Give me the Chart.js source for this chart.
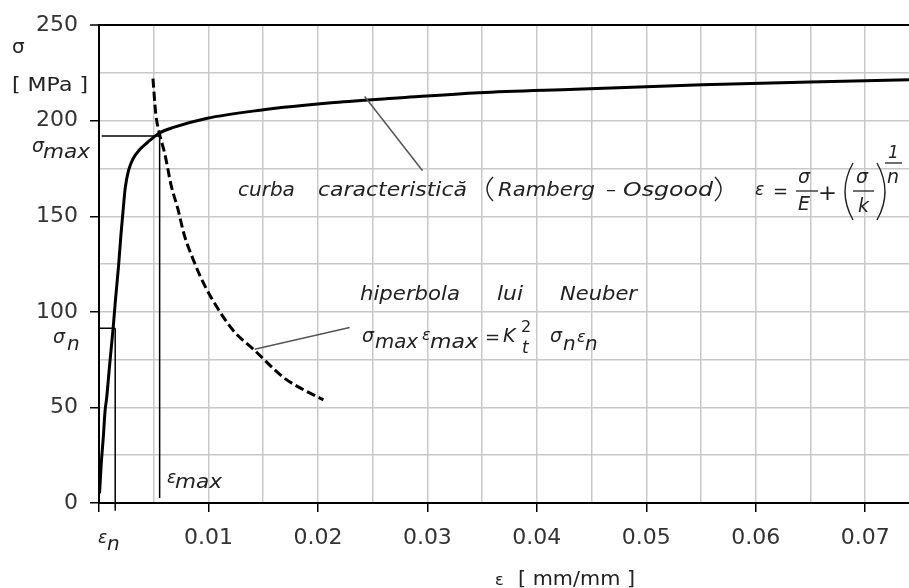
<!DOCTYPE html>
<html>
<head>
<meta charset="utf-8">
<title>Ramberg-Osgood si hiperbola lui Neuber</title>
<script src="https://cdn.jsdelivr.net/npm/chart.js"></script>
<style>
  body { margin: 0; background: #fff; }
  #wrap { width: 909px; height: 588px; position: relative; }
</style>
</head>
<body>
<div id="wrap"><canvas id="chart"></canvas></div>
<script>
// characteristic curve (Ramberg - Osgood), strain [mm/mm] and stress [MPa]
const curveStrain = [0.00005, 0.0002, 0.0004, 0.00055, 0.0007, 0.001, 0.0013, 0.0015, 0.0018, 0.002, 0.0022, 0.0024,
                     0.0027, 0.0031, 0.0037, 0.0044, 0.0055, 0.0068, 0.0098, 0.0147, 0.0215, 0.0276, 0.0347, 0.0435, 0.0551, 0.065, 0.074];
const curveStress = [5, 20, 35, 48, 55, 74, 92, 106, 125, 140, 153, 165,
                     174, 180, 184.8, 188.5, 193.5, 196.5, 201.2, 205.5, 209.5, 212, 214.7, 216.5, 218.8, 220.3, 221.4];

// Neuber hyperbola (dashed)
const neuberStrain = [0.00493, 0.00518, 0.00551, 0.006, 0.0066, 0.0072, 0.0078, 0.0086, 0.0093, 0.0103, 0.0123, 0.0141, 0.0169, 0.0186, 0.0205];
const neuberStress = [222, 204, 193.5, 183, 166, 154, 140, 127.5, 118, 107, 90, 80.5, 65.5, 59.5, 54];

// reference values
const sigmaMax = 192, epsMax = 0.00554;
const sigmaN = 91.4, epsN = 0.00148;

// leader lines for the labels [strain, stress]
const rambergLeader = [[0.02427, 212.7], [0.02956, 173.8]];
const neuberLeader = [[0.01422, 80.4], [0.0229, 91.8]];

const pts = (xs, ys) => xs.map((x, i) => ({ x: x, y: ys[i] }));
const pairs = arr => arr.map(p => ({ x: p[0], y: p[1] }));
const isMajorX = v => Math.abs(v * 100 - Math.round(v * 100)) < 1e-6;

const thin = { borderColor: '#000', borderWidth: 1.5, pointRadius: 0, showLine: true };

const annotate = {
  id: 'annotate',
  afterDraw(chart) {
    const c = chart.ctx;
    c.save();
    c.fillStyle = '#222';
    c.strokeStyle = '#222';
    c.textAlign = 'left';
    c.textBaseline = 'alphabetic';
    const IT = s => 'italic ' + s + 'px "DejaVu Sans"';
    const UP = s => s + 'px "DejaVu Sans"';
    // draw text, squeezed or stretched horizontally to width w when given
    function put(str, x, y, font, w) {
      c.font = font;
      let sx = 1;
      if (w) sx = w / c.measureText(str).width;
      c.save();
      c.translate(x, y);
      c.scale(sx, 1);
      c.fillText(str, 0, 0);
      c.restore();
    }
    function bar(x1, x2, y) {
      c.lineWidth = 1.3;
      c.beginPath(); c.moveTo(x1, y); c.lineTo(x2, y); c.stroke();
    }
    function paren(x, top, bottom, bulge) {
      c.lineWidth = 1.4;
      c.beginPath();
      c.moveTo(x, top);
      c.quadraticCurveTo(x + bulge, (top + bottom) / 2, x, bottom);
      c.stroke();
    }

    // axis titles and reference labels
    put('σ', 12, 53, UP(20));
    put('[ MPa ]', 12, 91, UP(20), 76);
    put('σ', 32, 152, IT(19)); put('max', 43, 158, IT(20), 47);
    put('σ', 53, 343, IT(19)); put('n', 67, 350, IT(20));
    put('ε', 98, 543, IT(17)); put('n', 107, 550, IT(20));
    put('ε', 167, 483, IT(17)); put('max', 175, 488, IT(20), 47);
    put('ε', 495, 585, UP(16)); put('[ mm/mm ]', 518, 585, UP(20), 117);

    // curba caracteristica
    put('curba', 238, 196, IT(20));
    put('caracteristică', 318, 196, IT(20), 149);
    paren(493, 177, 201, -12);
    put('Ramberg', 498, 196, IT(20), 97);
    put('–', 606, 196, IT(20));
    put('Osgood', 623, 196, IT(20), 90);
    paren(715, 177, 201, 12);

    // eps = sigma/E + (sigma/k)^(1/n)
    put('ε', 755, 195, IT(17));
    put('=', 773, 197, UP(18));
    put('σ', 798, 183, IT(19)); bar(796, 818, 191); put('E', 798, 210, IT(19));
    put('+', 818, 200, UP(22), 19);
    paren(853, 163, 220, -16);
    put('σ', 856, 183, IT(19)); bar(853, 874, 191); put('k', 858, 212, IT(19));
    paren(877, 163, 220, 16);
    put('1', 888, 158, IT(17)); bar(885, 902, 163); put('n', 887, 183, IT(19));

    // hiperbola lui Neuber
    put('hiperbola', 360, 300, IT(20), 100);
    put('lui', 497, 300, IT(20), 26);
    put('Neuber', 560, 300, IT(20), 77);
    put('σ', 362, 342, IT(19)); put('max', 375, 348, IT(20), 43);
    put('ε', 422, 340, IT(16)); put('max', 430, 348, IT(20), 48);
    put('=', 485, 343, UP(18));
    put('K', 503, 342, IT(19)); put('2', 521, 332, UP(16)); put('t', 522, 353, IT(17));
    put('σ', 550, 342, IT(19)); put('n', 563, 350, IT(20));
    put('ε', 577, 342, IT(16)); put('n', 585, 350, IT(20));
    c.restore();
  }
};

const ctx = document.getElementById('chart').getContext('2d');
new Chart(ctx, {
  type: 'scatter',
  data: {
    datasets: [
      { ...thin, data: [{ x: 0.00025, y: sigmaMax }, { x: epsMax, y: sigmaMax }] },
      { ...thin, data: [{ x: epsMax, y: 2.6 }, { x: epsMax, y: sigmaMax }] },
      { ...thin, data: [{ x: 0, y: sigmaN }, { x: epsN, y: sigmaN }] },
      { ...thin, clip: false, data: [{ x: epsN, y: -4 }, { x: epsN, y: sigmaN }] },
      { borderColor: '#555', borderWidth: 1.5, pointRadius: 0, showLine: true, data: pairs(rambergLeader) },
      { borderColor: '#555', borderWidth: 1.5, pointRadius: 0, showLine: true, data: pairs(neuberLeader) },
      {
        data: pts(curveStrain, curveStress), showLine: true, pointRadius: 0,
        borderColor: '#000', borderWidth: 3, cubicInterpolationMode: 'monotone'
      },
      {
        data: pts(neuberStrain, neuberStress), showLine: true, pointRadius: 0,
        borderColor: '#000', borderWidth: 3, borderDash: [9, 4], cubicInterpolationMode: 'monotone'
      }
    ]
  },
  options: {
    responsive: true,
    maintainAspectRatio: false,
    animation: false,
    layout: { padding: { top: 21, right: 0, left: 0, bottom: 0 } },
    plugins: { legend: { display: false }, tooltip: { enabled: false } },
    scales: {
      x: {
        type: 'linear', min: 0, max: 0.074,
        afterFit: s => { s.height = 85; },
        ticks: {
          stepSize: 0.005, includeBounds: false, autoSkip: false, maxRotation: 0,
          padding: 13, color: '#333', font: { family: 'DejaVu Sans', size: 22 },
          callback: v => (isMajorX(v) && v > 0) ? v.toFixed(2) : ''
        },
        grid: {
          color: '#c8c8c8', lineWidth: 1.5, tickLength: 9, tickWidth: 1.5,
          tickColor: c => isMajorX(c.tick.value) ? '#000' : 'rgba(0,0,0,0)'
        },
        border: { color: '#000', width: 2 }
      },
      y: {
        min: 0, max: 250,
        afterFit: s => { s.width = 99; },
        ticks: {
          stepSize: 25, padding: 12, color: '#333', font: { family: 'DejaVu Sans', size: 22 },
          callback: v => v % 50 === 0 ? String(v) : ''
        },
        grid: {
          color: c => c.tick.value === 250 ? '#000' : '#c8c8c8',
          lineWidth: c => c.tick.value === 250 ? 2 : 1.5,
          tickLength: 9, tickWidth: 1.5,
          tickColor: c => c.tick.value % 50 === 0 ? '#000' : 'rgba(0,0,0,0)'
        },
        border: { color: '#000', width: 2 }
      }
    }
  },
  plugins: [annotate]
});
</script>
</body>
</html>
